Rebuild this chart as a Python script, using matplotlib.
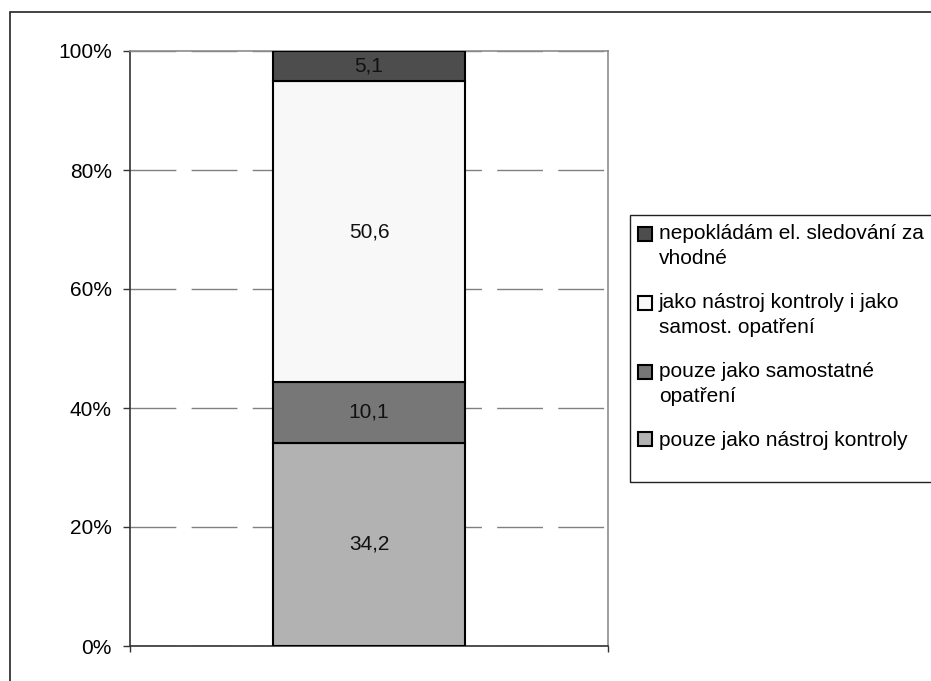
import matplotlib.pyplot as plt
from matplotlib.patches import Rectangle
from matplotlib.legend_handler import HandlerPatch

plt.rcParams['font.family'] = ['Liberation Sans', 'DejaVu Sans']
plt.rcParams['lines.scale_dashes'] = False

# stacked segments, bottom to top
categories = [
    'pouze jako nástroj kontroly',
    'pouze jako samostatné\nopatření',
    'jako nástroj kontroly i jako\nsamost. opatření',
    'nepokládám el. sledování za\nvhodné',
]
values = [34.2, 10.1, 50.6, 5.1]
colors = ['#b2b2b2', '#777777', '#f8f8f8', '#4d4d4d']
yticks = [0, 20, 40, 60, 80, 100]
ytick_labels = ['0%', '20%', '40%', '60%', '80%', '100%']

FS = 15
LSP = 1.4
W, H = 931, 681

fig = plt.figure(figsize=(W / 100, H / 100), dpi=100)
ax = fig.add_axes([130 / W, 1 - 646 / H, 478 / W, 595 / H])

bottom = 0
handles = []
for name, val, col in zip(categories, values, colors):
    b = ax.bar(0.5, val, width=0.4, bottom=bottom, color=col,
               edgecolor='black', linewidth=1.5, label=name, zorder=3)
    ax.bar_label(b, labels=[f'{val:.1f}'.replace('.', ',')],
                 label_type='center', fontsize=FS, color='#111111')
    handles.append(b.patches[0])
    bottom += val

ax.set_xlim(0, 1)
ax.set_ylim(0, 100)
ax.set_yticks(yticks)
ax.set_yticklabels(ytick_labels, fontsize=FS)
ax.set_xticks([0, 1])
ax.set_xticklabels([])
ax.tick_params(axis='y', direction='out', length=5, width=1, pad=8, color='#333333')
ax.tick_params(axis='x', direction='out', length=4, width=1, color='#333333')

ax.yaxis.grid(True, color='#808080', linewidth=1, linestyle=(0, (33, 11)))
ax.set_axisbelow(True)

for side in ['left', 'bottom']:
    ax.spines[side].set_color('#333333')
    ax.spines[side].set_linewidth(1.2)
for side in ['top', 'right']:
    ax.spines[side].set_color('#8c8c8c')
    ax.spines[side].set_linewidth(1.2)

# outer chart border and legend box
fig.add_artist(Rectangle((10 / W, -0.05), 1, 1 - 12 / H + 0.05,
                         transform=fig.transFigure, fill=False,
                         edgecolor='#222222', linewidth=1.2))
fig.add_artist(Rectangle((630 / W, 1 - 482 / H), 1, 267 / H,
                         transform=fig.transFigure, fill=False,
                         edgecolor='#222222', linewidth=1))


def first_line_square(nlines):
    # keep the legend square level with the first line of a wrapped label
    shift = (nlines - 1) * FS * LSP / 2 * 0.83

    def make(legend, orig_handle, xdescent, ydescent, width, height, fontsize):
        return Rectangle((-xdescent, -ydescent + shift), width, height)
    return HandlerPatch(patch_func=make)


leg_handles = handles[::-1]
leg_labels = categories[::-1]
hmap = {h: first_line_square(lab.count('\n') + 1)
        for h, lab in zip(leg_handles, leg_labels)}

leg = ax.legend(leg_handles, leg_labels, loc='upper left',
                bbox_to_anchor=(638 / W, 1 - 224 / H),
                bbox_transform=fig.transFigure, frameon=False,
                fontsize=FS, handlelength=0.65, handleheight=0.65,
                handletextpad=0.35, labelspacing=1.2,
                borderpad=0, borderaxespad=0, handler_map=hmap)
for t in leg.get_texts():
    t.set_linespacing(LSP)

fig.savefig('out.png', dpi=100)
